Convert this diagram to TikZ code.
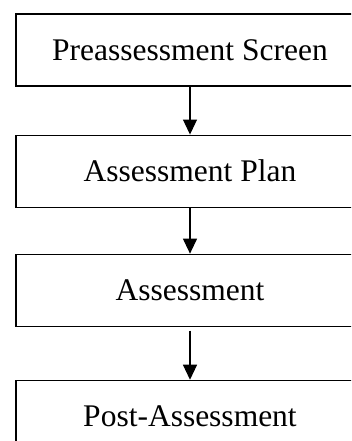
\documentclass[tikz,border=0pt]{standalone}
\usepackage{fontspec}
\setmainfont{Liberation Serif}
\usetikzlibrary{arrows.meta, positioning}

\begin{document}
\begin{tikzpicture}[x=1pt, y=1pt, >={Triangle[length=15pt, width=14pt]},
    stepbox/.style={rectangle, draw, line width=1.1pt, minimum width=348pt, minimum height=72pt, inner sep=0pt, font=\fontsize{31.5}{36}\selectfont},
    link/.style={->, line width=1.1pt}]
        \useasboundingbox (0,0) rectangle (351,441);
        \clip (0,0) rectangle (351,441);
        \node[stepbox] (screen) at (190,391) {Preassessment Screen};
        \node[stepbox, below=48pt of screen] (plan) {Assessment Plan};
        \node[stepbox, below=46pt of plan] (assess) {Assessment};
        \node[stepbox, below=53pt of assess] (post) {Post-Assessment};

        \draw[link] (screen) -- (plan);
        \draw[link] (plan) -- (assess);
        \draw[link, shorten <=4pt] (assess) -- (post);
    \end{tikzpicture}
\end{document}
